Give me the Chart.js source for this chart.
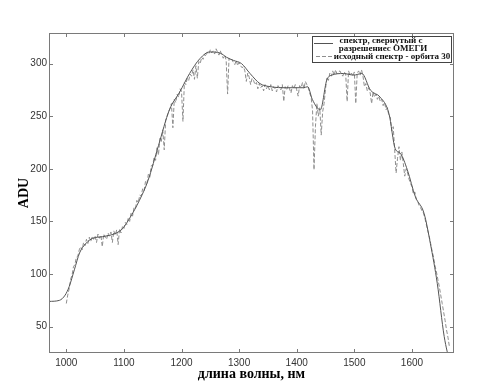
<!DOCTYPE html>
<html>
<head>
<meta charset="utf-8">
<script src="https://cdn.jsdelivr.net/npm/chart.js@4.4.1/dist/chart.umd.min.js"></script>
<style>
  html, body { margin: 0; padding: 0; background: #fff; }
  #wrap { width: 483px; height: 390px; }
</style>
</head>
<body>
<div id="wrap"><canvas id="spectrum" width="483" height="390"></canvas></div>
<script>
// tick labels
const xTicks = [1000, 1100, 1200, 1300, 1400, 1500, 1600];
const yTicks = [50, 100, 150, 200, 250, 300];

// convolved spectrum (solid line)
const smoothWl = [970, 988, 998, 1005, 1014, 1023, 1034, 1046, 1063, 1087, 1098, 1110, 1127, 1142,
  1160, 1179, 1197, 1214, 1232, 1249, 1267, 1278, 1290, 1304, 1319, 1336, 1354, 1383, 1412, 1419,
  1427, 1441, 1452, 1461, 1481, 1499, 1513, 1528, 1545, 1560, 1571, 1580, 1592, 1606, 1621, 1632,
  1644, 1656, 1666];
const smoothAdu = [74, 75, 80, 88, 104, 120, 129, 134, 135.5, 139, 143.5, 153, 170, 189,
  222, 256, 273, 290.5, 304.7, 311, 310, 306, 303, 300, 290.5, 281, 278, 277, 277, 278,
  266, 256, 284, 289, 290.5, 289, 290.5, 274.7, 268, 252.6, 219, 214.6, 199, 173.4, 157.7, 129,
  91, 40.6, 15];

// original spectrum, orbit 30 (dashed line), 2.5 nm step from 1000 nm
const rawStart = 1000;
const rawStep = 2.5;
const rawAdu = [
  72, 80, 86, 95, 99, 107, 109, 116, 117, 123,
  126, 123, 130, 127, 133, 129, 135, 131, 136, 133,
  136, 130, 138, 134, 137, 126, 138, 135, 133, 139,
  136, 140, 130, 141, 137, 142, 128, 143, 139, 145,
  143, 149, 147, 153, 150, 158, 155, 163, 162, 170,
  168, 175, 174, 181, 179, 188, 186, 195, 192, 203,
  203, 211, 208, 220, 213, 229, 226, 237, 218, 246,
  250, 254, 257, 262, 239, 266, 263, 271, 268, 276,
  274, 245, 282, 280, 286, 284, 290, 288, 294, 285,
  298, 286, 302, 300, 306, 304, 309, 307, 311, 309,
  313, 310, 312, 309, 314, 311, 308, 312, 308, 305,
  308, 303, 271, 305, 303, 304, 301, 299, 303, 298,
  301, 298, 296, 297, 293, 283, 291, 287, 280, 286,
  284, 280, 282, 276, 281, 277, 279, 274, 280, 276,
  279, 275, 280, 274, 278, 276, 273, 279, 277, 275,
  280, 264, 278, 275, 279, 276, 272, 279, 276, 280,
  275, 269, 279, 277, 282, 276, 283, 280, 277, 272,
  268, 255, 199, 240, 262, 250, 258, 232, 254, 262,
  276, 287, 284, 291, 288, 293, 289, 294, 290, 292,
  293, 290, 288, 292, 290, 264, 293, 289, 291, 288,
  292, 262, 291, 293, 289, 294, 288, 278, 281, 274,
  277, 272, 262, 273, 268, 271, 266, 269, 264, 266,
  260, 263, 256, 258, 250, 249, 236, 240, 218, 196,
  210, 221, 208, 216, 205, 193, 200, 196, 190, 186,
  183, 176, 178, 171, 169, 165, 163, 160, 158, 153,
  147, 141, 136, 129, 122, 116, 108, 102, 95, 88,
  80, 72, 64, 56, 47, 40, 31
];

const seriesLabels = ['спектр, свернутый с\nразрешениес ОМЕГИ', 'исходный спектр - орбита 30'];

const smoothData = smoothWl.map((w, i) => ({ x: w, y: smoothAdu[i] }));
const rawData = rawAdu.map((v, i) => ({ x: rawStart + i * rawStep, y: v }));

const boxColor = '#7a7a7a';

// box round the axes, inward tick marks, legend
const framePlugin = {
  id: 'frame',
  afterDatasetsDraw(chart) {
    const ctx = chart.ctx;
    const a = chart.chartArea;
    const xs = chart.scales.x;
    const ys = chart.scales.y;
    ctx.save();
    ctx.strokeStyle = boxColor;
    ctx.lineWidth = 1;
    ctx.strokeRect(a.left + 0.5, a.top + 0.5, a.right - a.left - 1, a.bottom - a.top - 1);
    ctx.beginPath();
    xs.ticks.forEach(t => {
      const px = Math.round(xs.getPixelForValue(t.value)) + 0.5;
      ctx.moveTo(px, a.bottom); ctx.lineTo(px, a.bottom - 4);
      ctx.moveTo(px, a.top); ctx.lineTo(px, a.top + 4);
    });
    ys.ticks.forEach(t => {
      const py = Math.round(ys.getPixelForValue(t.value)) + 0.5;
      ctx.moveTo(a.left, py); ctx.lineTo(a.left + 4, py);
      ctx.moveTo(a.right, py); ctx.lineTo(a.right - 4, py);
    });
    ctx.stroke();

    // legend
    const lx = 312, ly = 36, lw = 139, lh = 26;
    ctx.fillStyle = '#fff';
    ctx.fillRect(lx, ly, lw, lh);
    ctx.strokeStyle = '#444';
    ctx.strokeRect(lx + 0.5, ly + 0.5, lw, lh);
    const ds = chart.data.datasets;
    ctx.font = 'bold 9px "Liberation Serif"';
    ctx.fillStyle = '#111';
    ctx.textAlign = 'center';
    ctx.textBaseline = 'middle';
    const lines0 = ds[0].label.split('\n');
    ctx.fillText(lines0[0], 381, 41);
    ctx.fillText(lines0[1], 383, 49);
    ctx.fillText(ds[1].label, 392, 57);
    ctx.lineWidth = 1;
    ctx.strokeStyle = ds[0].borderColor;
    ctx.beginPath(); ctx.moveTo(314, 43.5); ctx.lineTo(333, 43.5); ctx.stroke();
    ctx.strokeStyle = ds[1].borderColor;
    ctx.setLineDash(ds[1].borderDash);
    ctx.beginPath(); ctx.moveTo(316, 56.5); ctx.lineTo(332, 56.5); ctx.stroke();
    ctx.restore();
  }
};

new Chart(document.getElementById('spectrum'), {
  type: 'line',
  data: {
    datasets: [
      {
        label: seriesLabels[0],
        data: smoothData,
        borderColor: '#545454',
        borderWidth: 1,
        pointRadius: 0,
        cubicInterpolationMode: 'monotone',
        fill: false
      },
      {
        label: seriesLabels[1],
        data: rawData,
        borderColor: '#8e8e8e',
        borderWidth: 1,
        borderDash: [4, 2],
        pointRadius: 0,
        tension: 0,
        fill: false
      }
    ]
  },
  options: {
    responsive: false,
    animation: false,
    layout: { padding: { top: 33, right: 29, left: 0, bottom: 0 } },
    plugins: { legend: { display: false }, tooltip: { enabled: false } },
    scales: {
      x: {
        type: 'linear',
        min: 970,
        max: 1673,
        afterBuildTicks: s => { s.ticks = xTicks.map(v => ({ value: v })); },
        afterFit: s => { s.height = 37; },
        grid: { display: false, drawTicks: false },
        border: { display: false },
        ticks: {
          color: '#333', padding: 4, maxRotation: 0,
          font: { family: 'Liberation Sans', size: 10 },
          callback: v => String(v)
        },
        title: {
          display: true,
          text: 'длина волны, нм',
          color: '#000',
          padding: { top: 0, bottom: 7 },
          font: { family: 'Liberation Serif', size: 14, weight: 'bold' }
        }
      },
      y: {
        type: 'linear',
        min: 25,
        max: 329,
        afterBuildTicks: s => { s.ticks = yTicks.map(v => ({ value: v })); },
        afterFit: s => { s.width = 49; },
        grid: { display: false, drawTicks: false },
        border: { display: false },
        ticks: {
          color: '#333', padding: 2,
          font: { family: 'Liberation Sans', size: 10 },
          callback: v => String(v)
        },
        title: {
          display: true,
          text: 'ADU',
          color: '#000',
          padding: { top: 16, bottom: 0 },
          font: { family: 'Liberation Serif', size: 14, weight: 'bold' }
        }
      }
    }
  },
  plugins: [framePlugin]
});
</script>
</body>
</html>
